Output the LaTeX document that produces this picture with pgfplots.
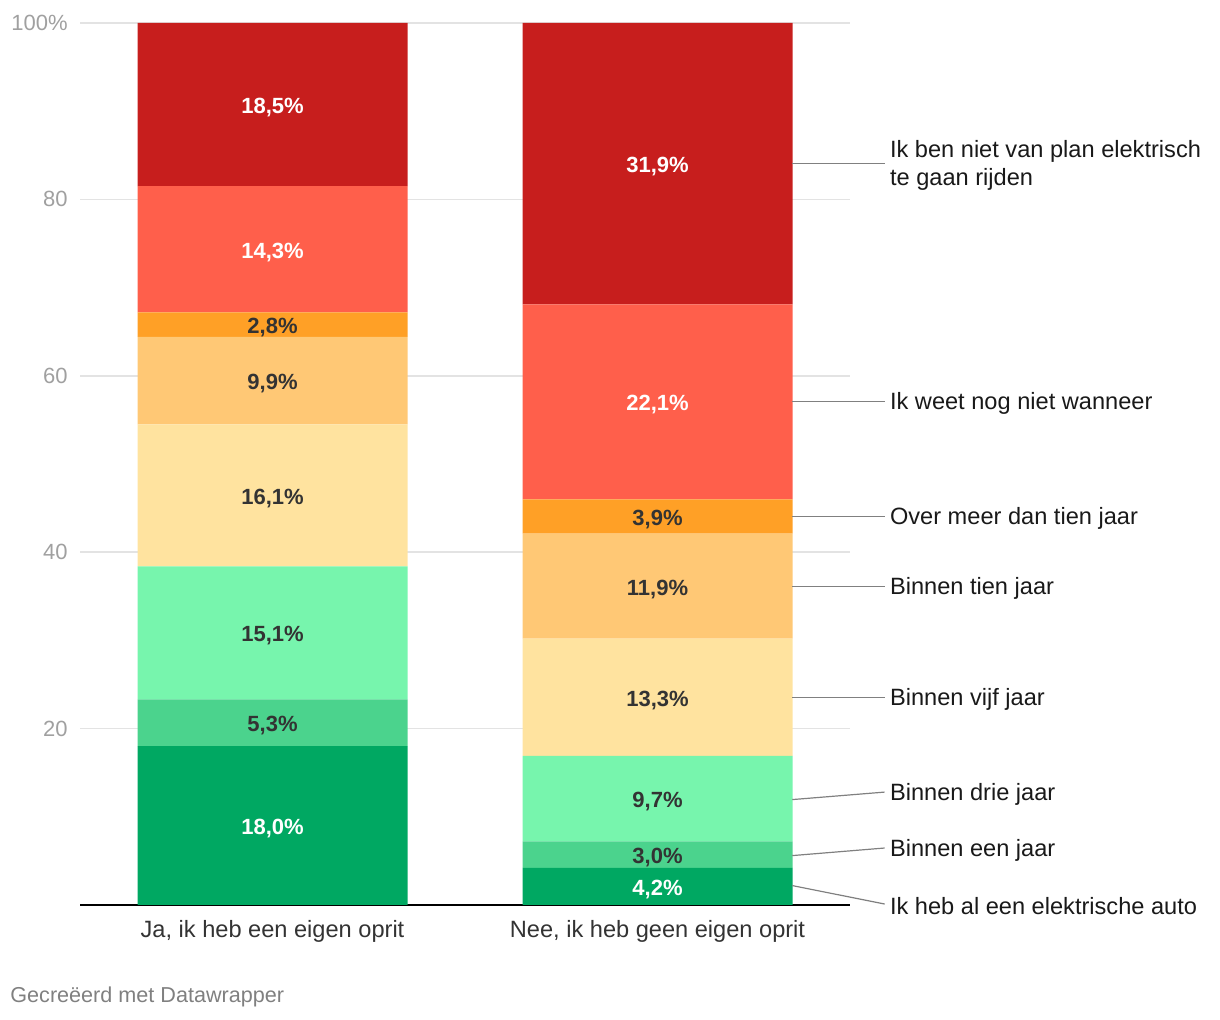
\documentclass[border=0pt]{standalone}
\usepackage{pgfplots}
\pgfplotsset{compat=1.18}
\usepackage{fontspec}
\setmainfont{Liberation Sans}
\definecolor{c1}{HTML}{00A862}
\definecolor{c2}{HTML}{4BD38D}
\definecolor{c3}{HTML}{77F5AD}
\definecolor{c4}{HTML}{FFE39F}
\definecolor{c5}{HTML}{FFC875}
\definecolor{c6}{HTML}{FFA026}
\definecolor{c7}{HTML}{FF5F4B}
\definecolor{c8}{HTML}{C71E1D}
\definecolor{txt}{HTML}{333333}
\definecolor{tick}{HTML}{A0A0A0}
\definecolor{lead}{HTML}{808080}
\begin{document}
\begin{tikzpicture}
\path[use as bounding box] (0,0) rectangle (610pt,510pt);
\begin{axis}[
  at={(40pt,57.5pt)}, anchor=south west,
  scale only axis, width=385pt, height=441pt,
  xmin=-0.5, xmax=1.5, ymin=0, ymax=100,
  ybar stacked, bar width=135pt,
  axis x line*=bottom, axis y line*=left,
  y axis line style={draw=none},
  x axis line style={line width=1pt, black},
  xtick={0,1}, xticklabels={{Ja, ik heb een eigen oprit}, {Nee, ik heb geen eigen oprit}},
  xtick style={draw=none},
  xticklabel style={font=\fontsize{11.8}{14}\selectfont, text=txt, anchor=center, yshift=-13pt},
  ytick={20,40,60,80,100}, yticklabels={20,40,60,80,100\%},
  ytick style={draw=none},
  yticklabel style={font=\fontsize{11}{13}\selectfont, text=tick, anchor=east, inner sep=0pt, xshift=-6pt},
  ymajorgrids, major grid style={draw=gray!22, line width=0.75pt},
]
\addplot[fill=c1, draw=none] coordinates {(0,18.0) (1,4.2)};
\addplot[fill=c2, draw=none] coordinates {(0,5.3) (1,3.0)};
\addplot[fill=c3, draw=none] coordinates {(0,15.1) (1,9.7)};
\addplot[fill=c4, draw=none] coordinates {(0,16.1) (1,13.3)};
\addplot[fill=c5, draw=none] coordinates {(0,9.9) (1,11.9)};
\addplot[fill=c6, draw=none] coordinates {(0,2.8) (1,3.9)};
\addplot[fill=c7, draw=none] coordinates {(0,14.3) (1,22.1)};
\addplot[fill=c8, draw=none] coordinates {(0,18.5) (1,31.9)};
\end{axis}
\begin{axis}[
  at={(40pt,57.5pt)}, anchor=south west,
  scale only axis, width=385pt, height=441pt,
  xmin=-0.5, xmax=1.5, ymin=0, ymax=100,
  hide axis, clip=false,
]
\addplot[draw=none, mark=none, nodes near coords={\pgfplotspointmeta}, point meta=explicit symbolic,
  every node near coord/.append style={anchor=center, yshift=-1.5pt, text=white, font=\fontsize{11}{13}\selectfont\bfseries}]
  coordinates {(0,9.0)[18,0\%] (0,74.35)[14,3\%] (0,90.75)[18,5\%] (1,2.1)[4,2\%] (1,57.05)[22,1\%] (1,84.05)[31,9\%]};
\addplot[draw=none, mark=none, nodes near coords={\pgfplotspointmeta}, point meta=explicit symbolic,
  every node near coord/.append style={anchor=center, yshift=-1.5pt, text=txt, font=\fontsize{11}{13}\selectfont\bfseries}]
  coordinates {(0,20.65)[5,3\%] (0,30.85)[15,1\%] (0,46.45)[16,1\%] (0,59.45)[9,9\%] (0,65.8)[2,8\%] (1,5.7)[3,0\%] (1,12.05)[9,7\%] (1,23.55)[13,3\%] (1,36.15)[11,9\%] (1,44.05)[3,9\%]};
\draw[lead, line width=0.6pt] (axis cs:1.35,84.05) -- (axis cs:1.59,84.05);
\draw[lead, line width=0.6pt] (axis cs:1.35,57.05) -- (axis cs:1.59,57.05);
\draw[lead, line width=0.6pt] (axis cs:1.35,44.05) -- (axis cs:1.59,44.05);
\draw[lead, line width=0.6pt] (axis cs:1.35,36.15) -- (axis cs:1.59,36.15);
\draw[lead, line width=0.6pt] (axis cs:1.35,23.55) -- (axis cs:1.59,23.55);
\draw[lead, line width=0.6pt] (axis cs:1.35,11.95) -- (axis cs:1.59,12.8);
\draw[lead, line width=0.6pt] (axis cs:1.35,5.6) -- (axis cs:1.59,6.46);
\draw[lead, line width=0.6pt] (axis cs:1.35,2.2) -- (axis cs:1.59,0.11);
\begin{scope}[every node/.style={anchor=west, inner sep=0pt, yshift=-1pt, text=black!90, font=\fontsize{11.8}{14}\selectfont}]
\node[align=left] at (axis cs:1.603,84.05) {Ik ben niet van plan elektrisch\\te gaan rijden};
\node at (axis cs:1.603,57.05) {Ik weet nog niet wanneer};
\node at (axis cs:1.603,44.05) {Over meer dan tien jaar};
\node at (axis cs:1.603,36.15) {Binnen tien jaar};
\node at (axis cs:1.603,23.55) {Binnen vijf jaar};
\node at (axis cs:1.603,12.8) {Binnen drie jaar};
\node at (axis cs:1.603,6.46) {Binnen een jaar};
\node at (axis cs:1.603,0.11) {Ik heb al een elektrische auto};
\end{scope}
\end{axis}
\node[anchor=base west, inner sep=0pt, text=black!50, font=\fontsize{10.8}{13}\selectfont] at (5pt,8.5pt) {Gecreëerd met Datawrapper};
\end{tikzpicture}
\end{document}
